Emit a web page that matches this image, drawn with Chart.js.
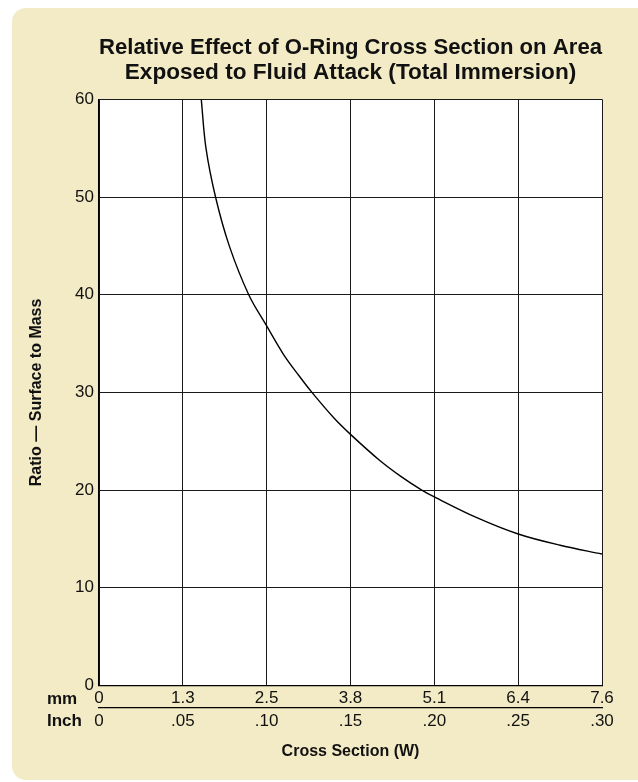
<!DOCTYPE html>
<html>
<head>
<meta charset="utf-8">
<script src="https://cdn.jsdelivr.net/npm/chart.js@4.4.1/dist/chart.umd.min.js"></script>
<style>
  html, body { margin: 0; padding: 0; background: #ffffff; }
  .box {
    position: absolute; left: 12px; top: 8px; width: 640px; height: 772px;
    background: #f3ebc5; border-radius: 14px;
  }
  .wrap { position: absolute; left: 0; top: 0; width: 638px; height: 782px; }
</style>
</head>
<body>
<div class="box"></div>
<div class="wrap"><canvas id="myChart" width="638" height="782"></canvas></div>
<script>
// cross section in inches
const crossSection = [0.061, 0.0638, 0.0695, 0.0777, 0.0893, 0.10, 0.11, 0.1193, 0.127, 0.14, 0.15, 0.1673, 0.18, 0.1925, 0.20, 0.225, 0.25, 0.275, 0.30];
const ratio = [60, 55, 50, 45, 40, 36.8, 33.9, 31.7, 30, 27.4, 25.7, 23.05, 21.4, 20, 19.3, 17.2, 15.5, 14.35, 13.45];

const inchTicks = [0, 0.05, 0.10, 0.15, 0.20, 0.25, 0.30];
const inchLabels = ["0", ".05", ".10", ".15", ".20", ".25", ".30"];
const mmLabels = ["0", "1.3", "2.5", "3.8", "5.1", "6.4", "7.6"];
const yTicks = [0, 10, 20, 30, 40, 50, 60];

const font = "'Liberation Sans', Arial, Helvetica, sans-serif";

const plotBg = {
    id: "plotBg",
    beforeDraw(chart) {
        const a = chart.chartArea;
        const ctx = chart.ctx;
        ctx.save();
        ctx.fillStyle = "#ffffff";
        ctx.fillRect(a.left, a.top, a.right - a.left, a.bottom - a.top);
        ctx.restore();
    }
};

// "mm" / "Inch" row names left of the two x axes
const rowNames = {
    id: "rowNames",
    afterDraw(chart) {
        const ctx = chart.ctx;
        ctx.save();
        ctx.font = "bold 17px " + font;
        ctx.fillStyle = "#111";
        ctx.textAlign = "left";
        ctx.textBaseline = "middle";
        ctx.fillText("mm", 47, chart.scales.x.top + 14);
        ctx.fillText("Inch", 47, chart.scales.x2.top + 14);
        ctx.restore();
    }
};

const pts = crossSection.map((v, i) => ({x: v, y: ratio[i]}));

new Chart("myChart", {
    type: "scatter",
    data: {
        datasets: [{
            data: pts,
            showLine: true,
            borderColor: "#000",
            borderWidth: 1.4,
            pointRadius: 0,
            tension: 0.35,
            fill: false
        }]
    },
    plugins: [plotBg, rowNames],
    options: {
        responsive: false,
        animation: false,
        layout: { padding: { left: 0, right: 36, top: 0, bottom: 0 } },
        plugins: {
            legend: { display: false },
            tooltip: { enabled: false },
            title: {
                display: true,
                fullSize: false,
                text: ["Relative Effect of O-Ring Cross Section on Area", "Exposed to Fluid Attack (Total Immersion)"],
                color: "#111",
                font: { family: font, size: 22.6, weight: "bold", lineHeight: 1.07 },
                padding: { top: 36, bottom: 15 }
            }
        },
        scales: {
            x: {
                type: "linear",
                position: "bottom",
                min: 0,
                max: 0.30,
                afterBuildTicks: s => { s.ticks = inchTicks.map(v => ({value: v})); },
                afterFit: s => { s.height = 22; },
                ticks: {
                    color: "#111",
                    font: { family: font, size: 17 },
                    padding: 3,
                    maxRotation: 0,
                    callback: (v, i) => mmLabels[i]
                },
                grid: { color: "#1a1a1a", lineWidth: 1, drawTicks: false },
                border: { display: true, color: "#000", width: 1.3 }
            },
            x2: {
                type: "linear",
                position: "bottom",
                min: 0,
                max: 0.30,
                afterBuildTicks: s => { s.ticks = inchTicks.map(v => ({value: v})); },
                ticks: {
                    color: "#111",
                    font: { family: font, size: 17 },
                    padding: 4,
                    maxRotation: 0,
                    callback: (v, i) => inchLabels[i]
                },
                grid: { drawOnChartArea: false, drawTicks: false },
                border: { display: true, color: "#000", width: 1.3 },
                title: {
                    display: true,
                    text: "Cross Section (W)",
                    color: "#111",
                    font: { family: font, size: 16, weight: "bold" },
                    padding: { top: 6, bottom: 21 }
                }
            },
            y: {
                min: 0,
                max: 60,
                afterBuildTicks: s => { s.ticks = yTicks.map(v => ({value: v})); },
                afterFit: s => { s.width = 99; },
                ticks: {
                    color: "#111",
                    font: { family: font, size: 17 },
                    padding: 5
                },
                grid: { color: "#1a1a1a", lineWidth: 1, drawTicks: false },
                border: { display: true, color: "#000", width: 1.3 },
                title: {
                    display: true,
                    text: "Ratio — Surface to Mass",
                    color: "#111",
                    font: { family: font, size: 16, weight: "bold" },
                    padding: 27
                }
            }
        }
    }
});
</script>
</body>
</html>
